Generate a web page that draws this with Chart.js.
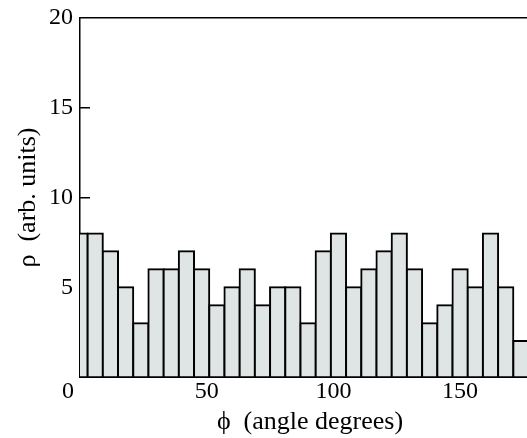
<!DOCTYPE html>
<html>
<head>
<meta charset="utf-8">
<script src="https://cdn.jsdelivr.net/npm/chart.js@4/dist/chart.umd.min.js"></script>
<style>
  html, body { margin: 0; padding: 0; background: #ffffff; }
  #c { display: block; }
</style>
</head>
<body>
<canvas id="c" width="527" height="438"></canvas>
<script>
// Bin centres (degrees) and counts
const binCenters = [0, 6, 12, 18, 24, 30, 36, 42, 48, 54, 60, 66, 72, 78, 84, 90, 96, 102, 108, 114, 120, 126, 132, 138, 144, 150, 156, 162, 168, 174];
const counts     = [8, 8, 7, 5, 3, 6, 6, 7, 6, 4, 5, 6, 4, 5, 5, 3, 7, 8, 5, 6, 7, 8, 6, 3, 4, 6, 5, 8, 5, 2];
const xTickValues = [0, 50, 100, 150];
const yTickValues = [5, 10, 15, 20];
const xTitle = '\u2002ϕ  (angle degrees)';
const yTitle = 'ρ  (arb. units)';

const points = binCenters.map((c, i) => ({ x: c, y: counts[i] }));
const serif = "'Liberation Serif', 'Times New Roman', serif";
Chart.defaults.font.family = serif;
Chart.defaults.color = '#000';

function noPad(s) { s.paddingTop = 0; s.paddingBottom = 0; s.paddingLeft = 0; s.paddingRight = 0; }

new Chart(document.getElementById('c'), {
  type: 'bar',
  data: {
    datasets: [{
      data: points,
      backgroundColor: '#dfe5e5',
      borderColor: '#000000',
      borderWidth: 2,
      inflateAmount: 1,
      barPercentage: 1,
      categoryPercentage: 1,
      clip: 0
    }]
  },
  options: {
    responsive: false,
    animation: false,
    events: [],
    layout: { padding: { top: 18, right: 0, left: 0, bottom: 0 } },
    plugins: { legend: { display: false }, tooltip: { enabled: false } },
    scales: {
      x: {
        type: 'linear',
        position: 'bottom',
        min: 0, max: 176.4,
        offset: false,
        z: 1,
        afterFit: s => { s.height = 61; noPad(s); },
        afterBuildTicks: s => { s.ticks = xTickValues.map(v => ({ value: v })); },
        ticks: {
          includeBounds: false,
          autoSkip: false,
          maxRotation: 0,
          padding: 10,
          color: '#000',
          font: { family: serif, size: 24 },
          callback: v => (v === 0 ? '0\u2002\u2002' : String(v))
        },
        grid: {
          offset: false,
          drawOnChartArea: false,
          drawTicks: true,
          tickLength: -10,
          lineWidth: 1.5,
          color: ctx => (ctx.tick && ctx.tick.value === 0 ? 'rgba(0,0,0,0)' : '#000')
        },
        border: { display: true, color: '#000', width: 2 },
        title: {
          display: true,
          text: xTitle,
          color: '#000',
          font: { family: serif, size: 26 },
          padding: { top: 0, bottom: 0 }
        }
      },
      xTop: {
        type: 'linear',
        position: 'top',
        min: 0, max: 176.4,
        afterFit: s => { s.height = 0; noPad(s); },
        ticks: { display: false },
        grid: { display: false },
        border: { display: true, color: '#000', width: 1.5 }
      },
      y: {
        type: 'linear',
        position: 'left',
        min: 0, max: 20,
        z: 1,
        afterFit: s => { s.width = 80; noPad(s); },
        afterBuildTicks: s => { s.ticks = [0].concat(yTickValues).map(v => ({ value: v })); },
        ticks: {
          padding: 17,
          color: '#000',
          font: { family: serif, size: 24 },
          callback: v => (v === 0 ? '' : String(v))
        },
        grid: {
          drawOnChartArea: false,
          drawTicks: true,
          tickLength: -10,
          lineWidth: 1.5,
          color: ctx => (ctx.tick && (ctx.tick.value === 0 || ctx.tick.value === 20) ? 'rgba(0,0,0,0)' : '#000')
        },
        border: { display: true, color: '#000', width: 1.5 },
        title: {
          display: true,
          text: yTitle,
          color: '#000',
          font: { family: serif, size: 26 },
          padding: { top: 13, bottom: 0 }
        }
      }
    }
  }
});
</script>
</body>
</html>
